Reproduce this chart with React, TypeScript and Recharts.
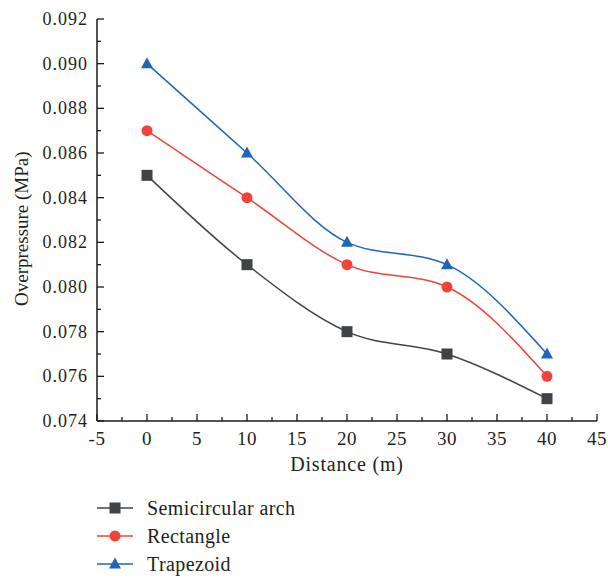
import React from 'react';
import { LineChart, Line, XAxis, YAxis, Legend } from 'recharts';

const distances = [0, 10, 20, 30, 40];
const semicircular = [0.085, 0.081, 0.078, 0.077, 0.075];
const rectangle = [0.087, 0.084, 0.081, 0.080, 0.076];
const trapezoid = [0.090, 0.086, 0.082, 0.081, 0.077];

const xTicks = [-5, -2.5, 0, 2.5, 5, 7.5, 10, 12.5, 15, 17.5, 20, 22.5, 25, 27.5, 30, 32.5, 35, 37.5, 40, 42.5, 45];
const yTicks = [0.074, 0.075, 0.076, 0.077, 0.078, 0.079, 0.08, 0.081, 0.082, 0.083, 0.084, 0.085, 0.086, 0.087, 0.088, 0.089, 0.09, 0.091, 0.092];

const seriesNames = ['Semicircular arch', 'Rectangle', 'Trapezoid'];
const seriesColors = ['#404347', '#f04438', '#1f66b9'];

const data = distances.map((d, i) => ({
  distance: d,
  semicircular: semicircular[i],
  rectangle: rectangle[i],
  trapezoid: trapezoid[i],
}));

const FONT = '"Liberation Serif", "DejaVu Serif", serif';
const AXIS = '#1a1a1a';
const TEXT = '#231f20';

const isMajorX = (v: number) => Math.abs(v % 5) < 1e-9;
const isMajorY = (v: number) => Math.abs(Math.round(v * 1000) % 2) === 0;

const XTick = (props: any) => {
  const { x, y, payload } = props;
  const major = isMajorX(payload.value);
  return (
    <g>
      <line x1={x} x2={x} y1={y} y2={y - (major ? 7 : 4)} stroke={AXIS} strokeWidth={1.3} />
      {major && (
        <text x={x} y={y + 24} textAnchor="middle" fontFamily={FONT} fontSize={19} letterSpacing={0.5} fill={TEXT}>
          {payload.value}
        </text>
      )}
    </g>
  );
};

const YTick = (props: any) => {
  const { x, y, payload } = props;
  const major = isMajorY(payload.value);
  return (
    <g>
      <line x1={x} x2={x + (major ? 7 : 4)} y1={y} y2={y} stroke={AXIS} strokeWidth={1.3} />
      {major && (
        <text x={x - 9} y={y + 6} textAnchor="end" fontFamily={FONT} fontSize={18} letterSpacing={1} fill={TEXT}>
          {payload.value.toFixed(3)}
        </text>
      )}
    </g>
  );
};

const Marker = ({ kind, cx, cy, color }: { kind: number; cx: number; cy: number; color: string }) => {
  if (kind === 0) return <rect x={cx - 5.5} y={cy - 5.5} width={11} height={11} fill={color} />;
  if (kind === 1) return <circle cx={cx} cy={cy} r={5.5} fill={color} />;
  return <polygon points={`${cx},${cy - 6.5} ${cx + 6},${cy + 4.5} ${cx - 6},${cy + 4.5}`} fill={color} />;
};

const makeDot = (kind: number, color: string) => (props: any) => {
  const { cx, cy, index } = props;
  if (cx == null || cy == null) return <g key={index} />;
  return <Marker key={index} kind={kind} cx={cx} cy={cy} color={color} />;
};

const LegendContent = () => (
  <div style={{ height: 84, fontFamily: FONT, fontSize: 20, letterSpacing: 0.4, color: TEXT }}>
    {seriesNames.map((name, i) => (
      <div key={name} style={{ display: 'flex', alignItems: 'center', height: 28 }}>
        <svg width={36} height={14} style={{ marginRight: 14 }}>
          <line x1={0} x2={36} y1={7} y2={7} stroke={seriesColors[i]} strokeWidth={1.5} />
          <Marker kind={i} cx={18} cy={7} color={seriesColors[i]} />
        </svg>
        <span>{name}</span>
      </div>
    ))}
  </div>
);

export default function App() {
  return (
    <div style={{ position: 'absolute', left: 0, top: 0, background: '#fff' }}>
      <LineChart
        width={608}
        height={578}
        data={data}
        margin={{ top: 19, right: 11, left: 37, bottom: 43 }}
      >
        <XAxis
          dataKey="distance"
          type="number"
          domain={[-5, 45]}
          ticks={xTicks}
          interval={0}
          tickSize={0}
          tickMargin={0}
          tickLine={false}
          tick={<XTick />}
          height={30}
          axisLine={{ stroke: AXIS, strokeWidth: 1.5 }}
          label={{ value: 'Distance (m)', position: 'insideBottom', offset: -20, fontFamily: FONT, fontSize: 20, letterSpacing: 0.8, fill: TEXT }}
        />
        <YAxis
          type="number"
          domain={[0.074, 0.092]}
          ticks={yTicks}
          interval={0}
          tickSize={0}
          tickMargin={0}
          tickLine={false}
          tick={<YTick />}
          width={60}
          axisLine={{ stroke: AXIS, strokeWidth: 1.5 }}
          label={{ value: 'Overpressure (MPa)', angle: -90, position: 'insideLeft', offset: -16, dy: 86, fontFamily: FONT, fontSize: 19, fill: TEXT }}
        />
        <Legend
          verticalAlign="bottom"
          align="left"
          content={<LegendContent />}
          wrapperStyle={{ left: 97, top: 494, width: 300 }}
        />
        <Line type="monotone" dataKey="semicircular" name={seriesNames[0]} stroke={seriesColors[0]} strokeWidth={1.5} dot={makeDot(0, seriesColors[0])} activeDot={false} isAnimationActive={false} />
        <Line type="monotone" dataKey="rectangle" name={seriesNames[1]} stroke={seriesColors[1]} strokeWidth={1.5} dot={makeDot(1, seriesColors[1])} activeDot={false} isAnimationActive={false} />
        <Line type="monotone" dataKey="trapezoid" name={seriesNames[2]} stroke={seriesColors[2]} strokeWidth={1.5} dot={makeDot(2, seriesColors[2])} activeDot={false} isAnimationActive={false} />
      </LineChart>
    </div>
  );
}
